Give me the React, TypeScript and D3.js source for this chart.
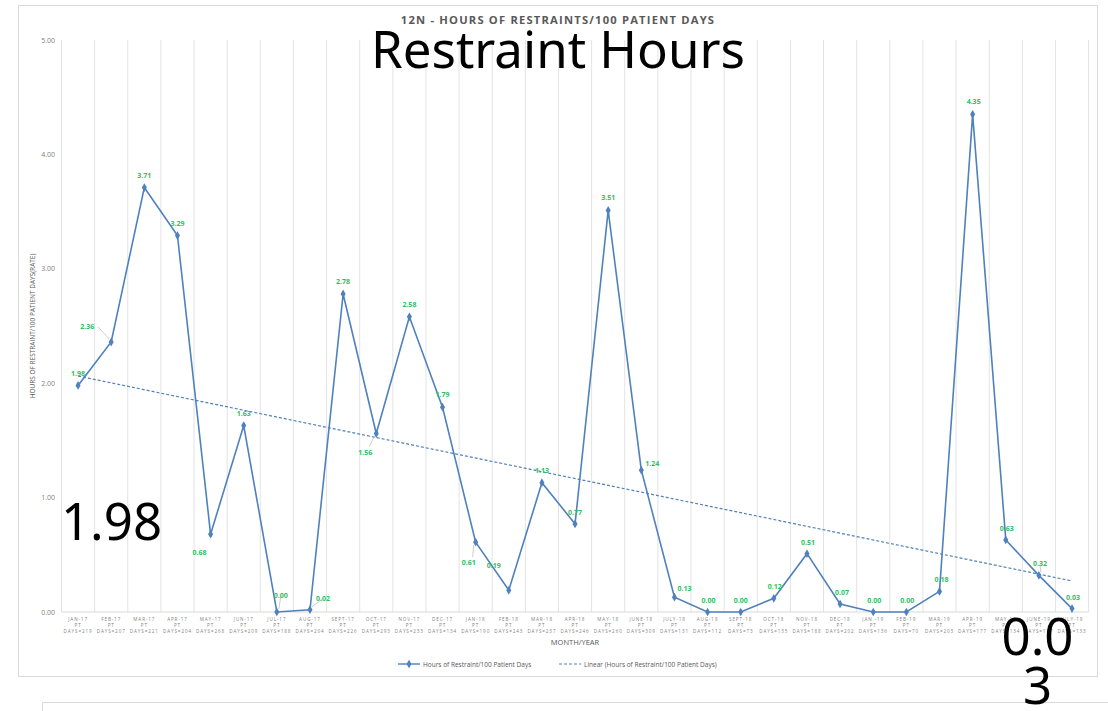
import * as d3 from "d3";

const months = [
  "JAN-17", "FEB-17", "MAR-17", "APR-17", "MAY-17", "JUN-17", "JUL-17", "AUG-17",
  "SEPT-17", "OCT-17", "NOV-17", "DEC-17", "JAN-18", "FEB-18", "MAR-18", "APR-18",
  "MAY-18", "JUNE-18", "JULY-18", "AUG-18", "SEPT-18", "OCT-18", "NOV-18", "DEC-18",
  "JAN.-19", "FEB-19", "MAR-19", "APR-19", "MAY-19", "JUNE-19", "JULY-19",
];
const patientDays = [
  219, 207, 221, 204, 268, 209, 188, 204, 226, 293, 233, 134, 190, 243, 237, 246,
  260, 309, 131, 112, 73, 135, 188, 202, 136, 70, 203, 177, 134, 117, 133,
];
const rates = [
  1.98, 2.36, 3.71, 3.29, 0.68, 1.63, 0.0, 0.02, 2.78, 1.56, 2.58, 1.79, 0.61, 0.19, 1.13, 0.77,
  3.51, 1.24, 0.13, 0.0, 0.0, 0.12, 0.51, 0.07, 0.0, 0.0, 0.18, 4.35, 0.63, 0.32, 0.03,
];
const yTicks = [0, 1, 2, 3, 4, 5];

// label placement relative to the point: [dx, dy, leader?]
const labelPos: [number, number, boolean][] = [
  [0, -9, false], [-24, -13, true], [0, -10, false], [0, -10, false], [-11, 21, false],
  [0, -10, false], [4, -14, true], [13, -9, true], [0, -10, false], [-11, 21, true],
  [0, -10, false], [0, -10, false], [-7, 23, true], [-15, -22, false], [0, -10, false],
  [0, -9, false], [0, -10, false], [11, -4, false], [10, -6, false], [1, -9, false],
  [0, -9, false], [1, -9, false], [1, -9, false], [2, -9, false], [1, -9, false],
  [1, -9, false], [2, -9, false], [1, -10, false], [1, -9, false], [1, -9, true],
  [1, -9, false],
];

const W = 1108;
const H = 711;
const green = "#2fbf5f";
const blue = "#4f81bd";
const font = "'Open Sans', 'Liberation Sans', sans-serif";

export default function App() {
  const x = d3.scaleBand<string>().domain(months).range([61.5, 1088.6]).padding(0);
  const y = d3.scaleLinear().domain([0, 5]).range([612, 40]);
  const cx = (m: string) => (x(m) as number) + x.bandwidth() / 2;

  const line = d3
    .line<number>()
    .x((_, i) => cx(months[i]))
    .y((d) => y(d));

  // linear trendline (least squares) over the series
  const xs = rates.map((_, i) => i + 1);
  const mx = d3.mean(xs) as number;
  const my = d3.mean(rates) as number;
  const slope =
    (d3.sum(xs, (v, i) => (v - mx) * (rates[i] - my)) as number) /
    (d3.sum(xs, (v) => (v - mx) * (v - mx)) as number);
  const icpt = my - slope * mx;
  const t0 = icpt + slope * 1;
  const t1 = icpt + slope * rates.length;

  const diamond = d3.symbol().type(d3.symbolDiamond).size(22)() as string;
  const gridX = [...months.map((m) => x(m) as number), 1088.6];

  return (
    <svg
      width={W}
      height={H}
      style={{ position: "absolute", left: 0, top: 0, background: "#fff" }}
      fontFamily={font}
    >
      <rect x={18.5} y={5.5} width={1079} height={671} fill="#fff" stroke="#d9d9d9" />
      <path d="M42.5,711 V702.5 H1108" fill="none" stroke="#d9d9d9" />

      <text x={558} y={24} textAnchor="middle" fontSize={11.2} fontWeight="bold" fill="#595959" letterSpacing={1.2}>
        12N - HOURS OF RESTRAINTS/100 PATIENT DAYS
      </text>

      {gridX.map((gx, i) => (
        <line key={i} x1={gx} x2={gx} y1={40} y2={612} stroke="#e3e3e3" strokeWidth={1} />
      ))}
      <line x1={61.5} x2={1088.6} y1={y(0)} y2={y(0)} stroke="#d9d9d9" />

      {yTicks.map((t) => (
        <text key={t} x={55} y={y(t) + 2.5} textAnchor="end" fontSize={7} fill="#7f7f7f">
          {t.toFixed(2)}
        </text>
      ))}
      <text
        transform={`translate(35,${(y(0) + y(5)) / 2}) rotate(-90)`}
        textAnchor="middle"
        fontSize={6.5}
        fill="#595959"
      >
        HOURS OF RESTRAINT/100 PATIENT DAYS(RATE)
      </text>

      {months.map((m, i) => (
        <g key={m} fontSize={4.6} fill="#7f7f7f" textAnchor="middle" letterSpacing={0.9}>
          <text x={cx(m)} y={621}>{m}</text>
          <text x={cx(m)} y={627}>PT</text>
          <text x={cx(m)} y={633}>{`DAYS=${patientDays[i]}`}</text>
        </g>
      ))}
      <text x={575} y={645} textAnchor="middle" fontSize={7.5} fill="#595959">
        MONTH/YEAR
      </text>

      <line
        x1={cx(months[0])}
        x2={cx(months[months.length - 1])}
        y1={y(t0)}
        y2={y(t1)}
        stroke={blue}
        strokeWidth={1.2}
        strokeDasharray="3,2"
      />
      <path d={line(rates) as string} fill="none" stroke={blue} strokeWidth={1.6} />
      {rates.map((r, i) => (
        <path key={i} d={diamond} transform={`translate(${cx(months[i])},${y(r)})`} fill={blue} />
      ))}

      {rates.map((r, i) => {
        const [dx, dy, leader] = labelPos[i];
        const px = cx(months[i]);
        const py = y(r);
        const lx = px + dx;
        const ly = py + dy;
        return (
          <g key={i}>
            {leader && (
              <line
                x1={dy < 0 ? lx + (dx < -10 ? 11 : 0) : lx + 4}
                y1={dy < 0 ? ly - 2 : ly - 8}
                x2={px + (dx < 0 ? -2 : dx > 0 ? 2 : 0)}
                y2={py + (dy < 0 ? -3 : 3)}
                stroke="#bfbfbf"
                strokeWidth={0.8}
              />
            )}
            <text x={lx} y={ly} textAnchor="middle" fontSize={7} fontWeight="bold" fill={green}>
              {r.toFixed(2)}
            </text>
          </g>
        );
      })}

      <g fontSize={6.5} fill="#595959">
        <line x1={398} x2={420} y1={664} y2={664} stroke={blue} strokeWidth={1.4} />
        <path d={diamond} transform="translate(409,664)" fill={blue} />
        <text x={423} y={666.5}>Hours of Restraint/100 Patient Days</text>
        <line x1={559} x2={581} y1={664} y2={664} stroke={blue} strokeWidth={1.2} strokeDasharray="3,2" />
        <text x={584} y={666.5}>Linear (Hours of Restraint/100 Patient Days)</text>
      </g>

      <g fontFamily="'Noto Sans', sans-serif" fontSize={51} fill="#000">
        <text x={558} y={68} textAnchor="middle">Restraint Hours</text>
        <text x={111.5} y={540} textAnchor="middle">{rates[0].toFixed(2)}</text>
        <text x={1037.5} y={655} textAnchor="middle">0.0</text>
        <text x={1037.5} y={704} textAnchor="middle">3</text>
      </g>
    </svg>
  );
}
